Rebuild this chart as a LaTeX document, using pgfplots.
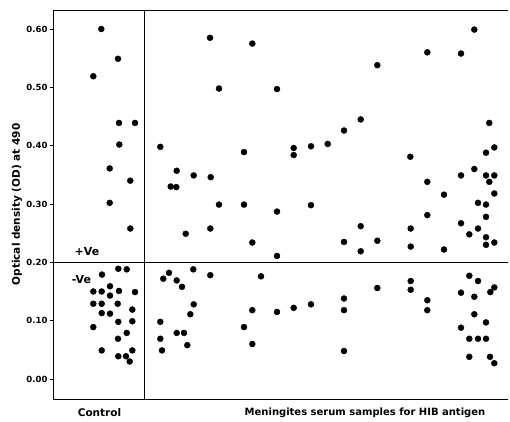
\documentclass[border=0pt]{standalone}
\usepackage{fontspec}
\setmainfont{DejaVu Sans}
\usepackage{pgfplots}
\pgfplotsset{compat=1.18}
\begin{document}
\begin{tikzpicture}
\path[use as bounding box] (-53pt,-22pt) rectangle (457pt,399pt);
\begin{axis}[
  at={(0,0)}, anchor=south west,
  scale only axis, width=455pt, height=389pt,
  xmin=53, xmax=508, ymin=-0.0343, ymax=0.6326,
  axis x line*=bottom, axis y line*=left,
  axis line style={-, line width=0.9pt},
  xtick=\empty,
  ytick={0,0.1,0.2,0.3,0.4,0.5,0.6},
  yticklabel style={font=\fontsize{8.5}{9}\selectfont\bfseries, xshift=1pt,
    /pgf/number format/.cd, fixed, fixed zerofill, precision=2, assume math mode=true},
  tick align=outside, major tick length=3pt,
  tick style={line width=0.8pt, black},
  clip=false,
]
\addplot[only marks, mark=*, mark size=3pt, black] coordinates {
(101.3,0.600) (118,0.549) (93.3,0.519) (119,0.439) (135,0.439) (119.3,0.402)
(109.7,0.361) (130.3,0.340) (109.7,0.302) (130.3,0.258)
(102,0.179) (118.3,0.189) (126.7,0.188) (93.3,0.150) (101.7,0.150) (110,0.159)
(119,0.151) (135,0.149) (110,0.143) (93.3,0.129) (101.7,0.129) (117.7,0.129)
(132.3,0.119) (101.7,0.113) (110,0.112) (118.3,0.098) (132.3,0.099) (93.3,0.089)
(126.7,0.079) (118,0.069) (101.7,0.049) (118.3,0.039) (126,0.039) (132.3,0.049)
(129.7,0.030)
};
\addplot[only marks, mark=*, mark size=3pt, black] coordinates {
(160.3,0.398) (210,0.585) (252.3,0.575) (219,0.498) (277,0.497) (244,0.389)
(293.7,0.396) (293.7,0.384) (311,0.399) (327.7,0.403) (176.7,0.357) (193.7,0.349)
(210.7,0.346) (170.7,0.330) (176.3,0.329) (219,0.299) (244,0.299) (277,0.287)
(311,0.298) (185.7,0.249) (210.3,0.258) (252.3,0.234) (277,0.211) (169,0.182)
(163.3,0.172) (176.7,0.169) (182,0.158) (193.3,0.188) (210.3,0.178) (261,0.176)
(193.7,0.128) (190.3,0.111) (160.3,0.098) (252.3,0.118) (277,0.115) (293.7,0.122)
(311,0.128) (176.7,0.079) (184,0.079) (160.3,0.069) (187.3,0.058) (162,0.049)
(244,0.089) (252.3,0.060)
(474.3,0.599) (427.3,0.560) (461,0.558) (377.3,0.538) (360.7,0.445) (344,0.426)
(489.3,0.439) (494.3,0.397) (486,0.388) (410.3,0.381) (474.3,0.360) (461,0.349)
(486,0.349) (494.3,0.349) (489.3,0.338) (427.3,0.338) (444,0.316) (494.3,0.318)
(478,0.302) (486,0.299) (427.3,0.281) (486,0.278) (360.7,0.262) (461,0.267)
(410.7,0.258) (478,0.258) (469.3,0.248) (486,0.243) (344,0.235) (377.3,0.237)
(486,0.230) (494.3,0.234) (410.7,0.227) (360.7,0.219) (444,0.222)
(469.3,0.177) (478,0.168) (410.7,0.168) (410.7,0.153) (377.3,0.156) (494.3,0.157)
(490.3,0.149) (461,0.148) (474.3,0.141) (344,0.138) (427.3,0.135) (344,0.118)
(427.3,0.118) (474.3,0.111) (486,0.097) (461,0.088) (469.3,0.069) (478,0.069)
(486,0.069) (344,0.048) (469.3,0.038) (490,0.038) (494.3,0.027)
};
\draw[line width=0.9pt] (rel axis cs:0,1) -- (rel axis cs:1,1);
\draw[line width=0.9pt] (axis cs:144.5,-0.0343) -- (axis cs:144.5,0.6326);
\draw[line width=0.9pt] (axis cs:53,0.2) -- (axis cs:508,0.2);
\node[font=\fontsize{11}{12}\selectfont\bfseries] at (axis cs:87,0.218) {+Ve};
\node[font=\fontsize{11}{12}\selectfont\bfseries] at (axis cs:81.5,0.171) {-Ve};
\node[font=\fontsize{10.5}{12}\selectfont\bfseries] at ([yshift=-14pt]axis cs:99.5,-0.0343) {Control};
\node[font=\fontsize{10}{12}\selectfont\bfseries] at ([yshift=-14pt]axis cs:365,-0.0343) {Meningites serum samples for HIB antigen};
\node[font=\fontsize{10.5}{12}\selectfont\bfseries, rotate=90] at ([xshift=-36pt]rel axis cs:0,0.5) {Optical density (OD) at 490};
\end{axis}
\end{tikzpicture}
\end{document}
